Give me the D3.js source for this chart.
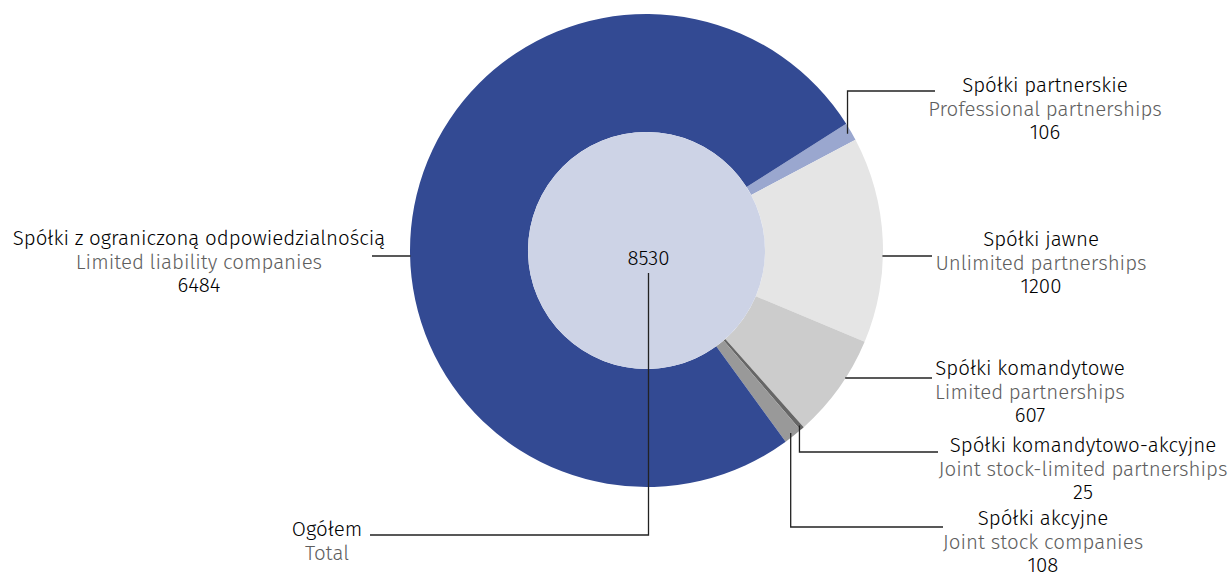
<!DOCTYPE html>
<html>
<head>
<meta charset="utf-8">
<script src="https://cdn.jsdelivr.net/npm/d3@7"></script>
<style>
  body { margin: 0; background: #fff; }
  svg { display: block; font-family: "Fira Sans", "Noto Sans", sans-serif; font-weight: 300; }
</style>
</head>
<body>
<svg id="chart" width="1228" height="572"></svg>
<script>
// data
const namesPl = ["Spółki partnerskie", "Spółki jawne", "Spółki komandytowe",
  "Spółki komandytowo-akcyjne", "Spółki akcyjne", "Spółki z ograniczoną odpowiedzialnością"];
const namesEn = ["Professional partnerships", "Unlimited partnerships", "Limited partnerships",
  "Joint stock-limited partnerships", "Joint stock companies", "Limited liability companies"];
const counts = [106, 1200, 607, 25, 108, 6484];
const totalPl = "Ogółem";
const totalEn = "Total";

const colors = ["#9aa7cf", "#e5e5e5", "#cccccc", "#666666", "#999999", "#334a93"];

// label placement: text centre x, first baseline, leader type, leader y, leader end x
const layout = [
  { tx: 1045, ty: 92,  kind: "elbow", ly: 91,  ex: 935 },
  { tx: 1041, ty: 246, kind: "horiz", ly: 256, ex: 932 },
  { tx: 1030, ty: 375, kind: "horiz", ly: 378, ex: 932 },
  { tx: 1083, ty: 452, kind: "elbow", ly: 452, ex: 938 },
  { tx: 1043, ty: 525, kind: "elbow", ly: 527, ex: 943 },
  { tx: 199,  ty: 245, kind: "horiz", ly: 256, ex: 372 }
];

const cx = 646.5, cy = 250.5, rOuter = 236.5, rInner = 118.5;
const lineGap = 23.5;
const fontSize = "20.5px";
const total = d3.sum(counts);

const svg = d3.select("#chart");
const g = svg.append("g").attr("transform", "translate(" + cx + "," + cy + ")");

const startA = 57.6 * Math.PI / 180;
const pie = d3.pie().sort(null).value(d => d)
  .startAngle(startA).endAngle(startA + 2 * Math.PI);
const arcs = pie(counts);

const arc = d3.arc().innerRadius(rInner).outerRadius(rOuter);

g.selectAll("path.slice")
  .data(arcs)
  .enter()
  .append("path")
  .attr("class", "slice")
  .attr("d", arc)
  .attr("fill", (d, i) => colors[i]);

g.append("circle")
  .attr("r", rInner)
  .attr("fill", "#cdd3e6");

// leader lines
arcs.forEach((a, i) => {
  const L = layout[i];
  let pts;
  if (L.kind === "horiz") {
    const dy = L.ly - cy;
    const dx = Math.sqrt(rOuter * rOuter - dy * dy) - 0.5;
    const sx = L.ex > cx ? cx + dx : cx - dx;
    pts = [[sx, L.ly], [L.ex, L.ly]];
  } else {
    const mid = (a.startAngle + a.endAngle) / 2;
    const sx = cx + (rOuter - 4) * Math.sin(mid);
    const sy = cy - (rOuter - 4) * Math.cos(mid);
    pts = [[sx, sy], [sx, L.ly], [L.ex, L.ly]];
  }
  svg.append("path")
    .attr("d", d3.line()(pts))
    .attr("fill", "none")
    .attr("stroke", "#222")
    .attr("stroke-width", 1.3);
});

// labels
const lab = svg.selectAll("g.label")
  .data(arcs)
  .enter()
  .append("g")
  .attr("class", "label")
  .attr("text-anchor", "middle")
  .attr("font-size", fontSize);

lab.append("text").attr("x", (d, i) => layout[i].tx).attr("y", (d, i) => layout[i].ty)
  .attr("fill", "#000").text((d, i) => namesPl[i]);
lab.append("text").attr("x", (d, i) => layout[i].tx).attr("y", (d, i) => layout[i].ty + lineGap)
  .attr("fill", "#5e5e5e").text((d, i) => namesEn[i]);
lab.append("text").attr("x", (d, i) => layout[i].tx).attr("y", (d, i) => layout[i].ty + 2 * lineGap)
  .attr("fill", "#000").text(d => d.value);

// total
svg.append("text")
  .attr("x", cx + 2).attr("y", 265)
  .attr("text-anchor", "middle").attr("font-size", fontSize).attr("fill", "#000")
  .text(total);

svg.append("path")
  .attr("d", d3.line()([[cx + 2, 273], [cx + 2, 535], [370, 535]]))
  .attr("fill", "none").attr("stroke", "#222").attr("stroke-width", 1.3);

svg.append("text")
  .attr("x", 327).attr("y", 536)
  .attr("text-anchor", "middle").attr("font-size", fontSize).attr("fill", "#000")
  .text(totalPl);
svg.append("text")
  .attr("x", 327).attr("y", 536 + lineGap)
  .attr("text-anchor", "middle").attr("font-size", fontSize).attr("fill", "#5e5e5e")
  .text(totalEn);
</script>
</body>
</html>
